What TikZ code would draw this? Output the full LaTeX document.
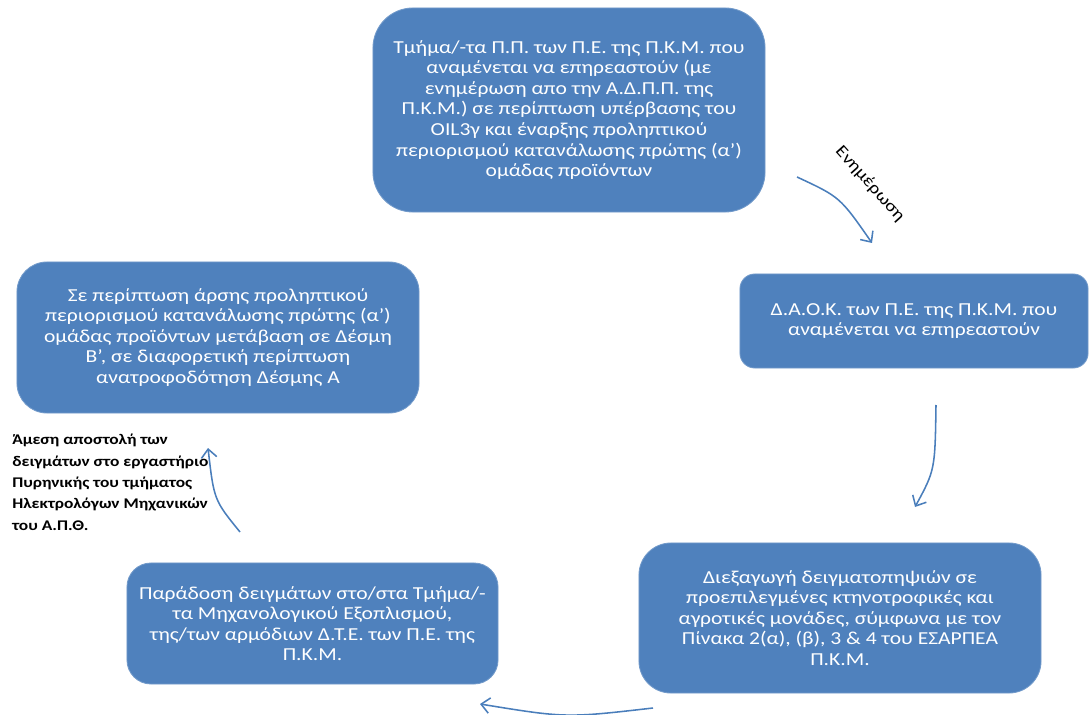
\documentclass[tikz,border=0pt]{standalone}
\usepackage{fontspec}
\setmainfont{Carlito}[FakeStretch=1.18]
\usetikzlibrary{arrows.meta}
\definecolor{boxblue}{HTML}{4F81BD}
\definecolor{arrowblue}{HTML}{4A7EBB}
\begin{document}
\begin{tikzpicture}[x=0.025cm,y=-0.025cm,
	box/.style={fill=boxblue,draw=boxblue!80!white,line width=.6pt,text=white,align=center,
		font=\fontsize{13}{14.6}\selectfont,inner sep=0pt},
	arr/.style={draw=arrowblue,line width=1.1pt,-{Straight Barb[length=6pt,width=11pt]}},
	note/.style={align=left,anchor=north west,inner sep=0pt,font=\fontsize{10.5}{15.2}\selectfont\bfseries}]
	\useasboundingbox (0,0) rectangle (1090,715);

	\node[box,rounded corners=1cm,minimum width=9.8cm,minimum height=5.1cm] (top) at (569,110)
		{Τμήμα/-τα Π.Π. των Π.Ε. της Π.Κ.Μ. που\\
		αναμένεται να επηρεαστούν (με\\
		ενημέρωση απο την Α.Δ.Π.Π. της\\
		Π.Κ.Μ.) σε περίπτωση υπέρβασης του\\
		OIL3γ και έναρξης προληπτικού\\
		περιορισμού κατανάλωσης πρώτης (α')\\
		ομάδας προϊόντων};

	\node[box,rounded corners=.37cm,minimum width=8.7cm,minimum height=2.35cm] (daok) at (914,321)
		{Δ.Α.Ο.Κ. των Π.Ε. της Π.Κ.Μ. που\\
		αναμένεται να επηρεαστούν};

	\node[box,rounded corners=.8cm,minimum width=10.05cm,minimum height=3.75cm] (sampling) at (840,618)
		{Διεξαγωγή δειγματοπηψιών σε\\
		προεπιλεγμένες κτηνοτροφικές και\\
		αγροτικές μονάδες,  σύμφωνα με τον\\
		Πίνακα 2(α), (β), 3 \& 4 του ΕΣΑΡΠΕΑ\\
		Π.Κ.Μ.};

	\node[box,rounded corners=.6cm,minimum width=9.275cm,minimum height=3.025cm] (delivery) at (312.5,623.5)
		{Παράδοση δειγμάτων στο/στα Τμήμα/-\\
		τα Μηχανολογικού Εξοπλισμού,\\
		της/των αρμόδιων Δ.Τ.Ε. των Π.Ε. της\\
		Π.Κ.Μ.};

	\node[box,rounded corners=.75cm,minimum width=10.05cm,minimum height=3.775cm] (lift) at (218,337.5)
		{Σε περίπτωση άρσης προληπτικού\\
		περιορισμού κατανάλωσης πρώτης (α')\\
		ομάδας προϊόντων μετάβαση σε Δέσμη\\
		Β', σε διαφορετική περίπτωση\\
		ανατροφοδότηση Δέσμης Α};

	\node[note] (lab) at (12,434)
		{Άμεση αποστολή των\\
		δειγμάτων στο εργαστήριο\\
		Πυρηνικής του τμήματος\\
		Ηλεκτρολόγων Μηχανικών\\
		του Α.Π.Θ.};

	% arrow ends
	\coordinate (a1s) at (797,177);
	\coordinate (a1e) at (872,243);
	\coordinate (a2s) at (936,405);
	\coordinate (a2e) at (915,507);
	\coordinate (a3s) at (653,708);
	\coordinate (a3e) at (480,704);
	\coordinate (a4s) at (240,532);
	\coordinate (a4e) at (208,448);

	\draw[arr] (a1s) .. controls (840,197) .. (a1e);
	\node[rotate=-48,font=\fontsize{12}{13}\selectfont] (inform) at (870,184) {Ενημέρωση};
	\draw[arr] (a2s) .. controls (935,470) .. (a2e);
	\draw[arr] (a3s) .. controls (566,718) .. (a3e);
	\draw[arr] (a4s) .. controls (214,500) .. (a4e);
\end{tikzpicture}
\end{document}
